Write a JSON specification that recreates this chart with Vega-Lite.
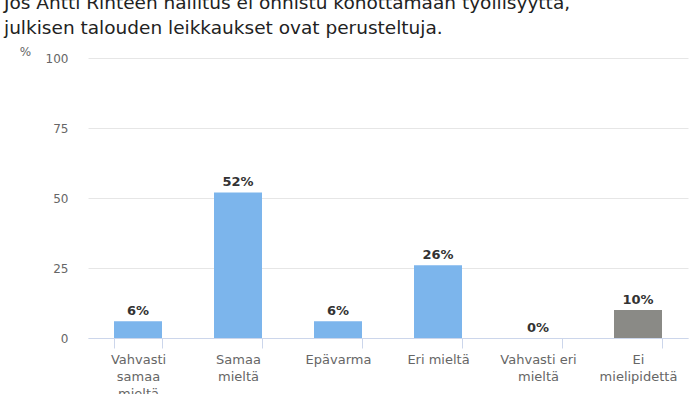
{
  "$schema": "https://vega.github.io/schema/vega-lite/v6.json",
  "autosize": "none",
  "width": 600,
  "height": 280,
  "padding": {"left": 88, "top": 58, "right": 12, "bottom": 56},
  "background": "white",
  "config": {"view": {"stroke": null}, "font": "DejaVu Sans"},
  "title": {
    "text": ["Jos Antti Rinteen hallitus ei onnistu kohottamaan työllisyyttä,", "julkisen talouden leikkaukset ovat perusteltuja."],
    "anchor": "start",
    "frame": "group",
    "dx": -84,
    "offset": 8,
    "fontSize": 18.5,
    "fontWeight": "normal",
    "color": "#222222",
    "lineHeight": 25
  },
  "data": {
    "values": [
      {"kategoria": "Vahvasti|samaa|mieltä", "arvo": 6, "teksti": "6%", "ryhma": "a"},
      {"kategoria": "Samaa|mieltä", "arvo": 52, "teksti": "52%", "ryhma": "a"},
      {"kategoria": "Epävarma", "arvo": 6, "teksti": "6%", "ryhma": "a"},
      {"kategoria": "Eri mieltä", "arvo": 26, "teksti": "26%", "ryhma": "a"},
      {"kategoria": "Vahvasti eri|mieltä", "arvo": 0, "teksti": "0%", "ryhma": "a"},
      {"kategoria": "Ei|mielipidettä", "arvo": 10, "teksti": "10%", "ryhma": "b"}
    ]
  },
  "encoding": {
    "x": {
      "field": "kategoria",
      "type": "nominal",
      "sort": null,
      "scale": {"paddingInner": 0.52, "paddingOuter": 0.26},
      "axis": {
        "title": null,
        "labelAngle": 0,
        "labelExpr": "isString(datum.value) ? split(datum.value, '|') : ''",
        "labelFontSize": 13,
        "labelColor": "#666666",
        "labelLineHeight": 17,
        "labelPadding": 5,
        "domainColor": "#ccd6eb",
        "tickColor": "#ccd6eb",
        "tickBand": "extent",
        "tickSize": 10
      }
    },
    "y": {
      "field": "arvo",
      "type": "quantitative",
      "scale": {"domain": [0, 100]},
      "axis": {
        "values": [0, 25, 50, 75, 100],
        "title": "%",
        "titleAngle": 0,
        "titleX": -63,
        "titleY": 0,
        "titleFontWeight": "normal",
        "titleFontSize": 12,
        "titleColor": "#666666",
        "titleAlign": "center",
        "labelFontSize": 12,
        "labelColor": "#666666",
        "labelPadding": 20,
        "domain": false,
        "ticks": false,
        "gridColor": "#e6e6e6"
      }
    }
  },
  "layer": [
    {
      "mark": {"type": "bar"},
      "encoding": {
        "color": {
          "field": "ryhma",
          "type": "nominal",
          "scale": {"domain": ["a", "b"], "range": ["#7cb5ec", "#8a8a86"]},
          "legend": null
        }
      }
    },
    {
      "mark": {"type": "text", "baseline": "bottom", "dy": -3, "fontWeight": "bold", "fontSize": 13, "color": "#333333"},
      "encoding": {
        "text": {"field": "teksti", "type": "nominal"}
      }
    }
  ]
}
